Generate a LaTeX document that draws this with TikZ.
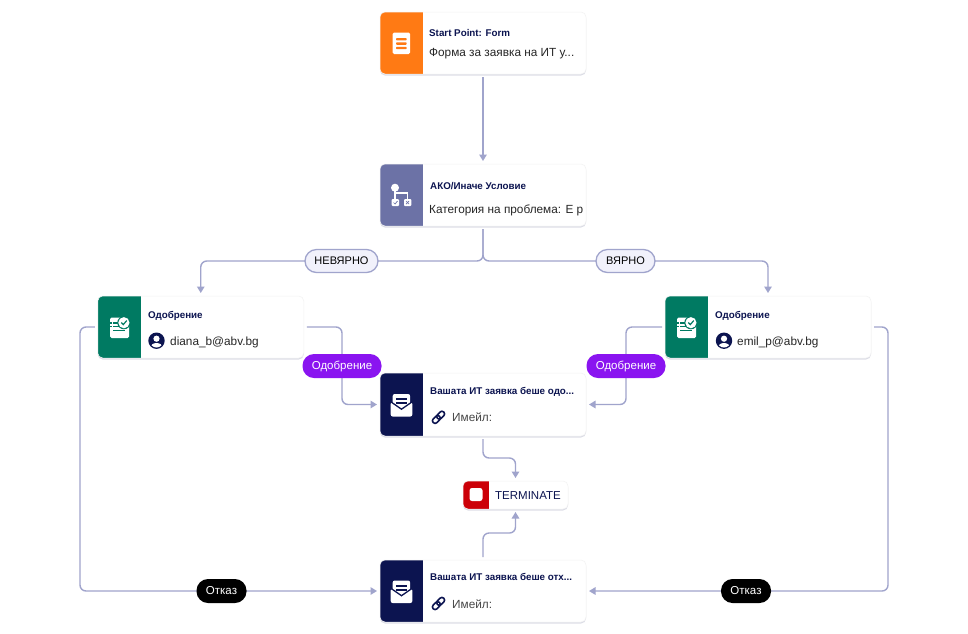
\documentclass[tikz,border=0pt]{standalone}
\usepackage{fontspec}
\setmainfont{Liberation Sans}
\usetikzlibrary{arrows.meta,shadows}
\definecolor{navy}{HTML}{0C1450}
\definecolor{edgec}{HTML}{A0A4CC}
\definecolor{orangec}{HTML}{FF7A14}
\definecolor{slatec}{HTML}{6C72A6}
\definecolor{greenc}{HTML}{007A62}
\definecolor{redc}{HTML}{CC0008}
\definecolor{purplec}{HTML}{8A14F0}
\definecolor{pillc}{HTML}{F1F1FB}
\tikzset{
  x=1pt,y=-1pt,
  card/.style={rectangle,rounded corners=5pt,draw=black!5,line width=.5pt,fill=white,
    minimum width=206pt,minimum height=62pt,inner sep=0pt,outer sep=3pt,
    drop shadow={shadow xshift=0pt,shadow yshift=-1.5pt,opacity=.14,fill=navy},
    path picture={\fill[#1,sharp corners] (path picture bounding box.north west) rectangle ([xshift=43pt]path picture bounding box.south west);}},
  termcard/.style={card=redc,minimum width=105pt,minimum height=28pt,
    path picture={\fill[redc,sharp corners] (path picture bounding box.north west) rectangle ([xshift=26pt]path picture bounding box.south west);}},
  flow/.style={draw=edgec,line width=1.4pt,rounded corners=6pt,-{Triangle[length=6.5pt,width=7.5pt]}},
  titletxt/.style={anchor=base west,inner sep=0pt,text=navy,font=\fontsize{9.8}{10}\selectfont\bfseries},
  subtxt/.style={anchor=base west,inner sep=0pt,text=black!85,font=\fontsize{11.8}{12}\selectfont},
  pill/.style={rounded corners=11.5pt,minimum height=24pt,inner sep=0pt,text height=8.5pt,text depth=1.3pt,font=\fontsize{11.5}{12}\selectfont},
  branchpill/.style={pill,draw=edgec,line width=1.3pt,fill=pillc,text=black,minimum height=23pt,font=\fontsize{11}{12}\selectfont},
  okpill/.style={pill,fill=purplec,text=white},
  nopill/.style={pill,fill=black,text=white},
}
\newcommand{\iconform}[2]{\begin{scope}[shift={(#1,#2)}]
  \fill[white,rounded corners=1.5pt] (-8.8,-10.5) rectangle (8.6,11);
  \fill[orangec,rounded corners=.8pt] (-5.5,-5) rectangle (5.2,-2.6) (-5.5,-.6) rectangle (5.2,1.8) (-5.5,3.8) rectangle (5.2,6.2);
\end{scope}}
\newcommand{\iconbranch}[2]{\begin{scope}[shift={(#1,#2)}]
  \draw[white,line width=1.6pt] (-6.5,-7.8) -- (-6.5,4) (-6.5,-2.5) -- (6,-2.5) -- (6,4);
  \fill[white] (-6.5,-7.8) circle (4);
  \fill[white,rounded corners=1pt] (-9.8,3.5) rectangle (-2.5,10.5) (2.5,3.5) rectangle (9.8,10.5);
  \draw[slatec,line width=.7pt] (-8,7) -- (-6.5,8.5) -- (-4,5.5) (4.5,5.5) -- (7.5,8.5) (7.5,5.5) -- (4.5,8.5);
\end{scope}}
\newcommand{\iconapprove}[2]{\begin{scope}[shift={(#1,#2)}]
  \fill[white,rounded corners=1.5pt] (-9.3,-10) -- (3,-10) -- (9.7,-4) -- (9.7,10.5) -- (-9.3,10.5) -- cycle;
  \draw[greenc,line width=1.1pt] (-9.5,-4.5) -- (-7.8,-4.5) (-9.5,-.8) -- (-7.8,-.8);
  \draw[greenc,line width=1.1pt] (-6.2,-4.5) -- (-1.5,-4.5) (-6.2,-.8) -- (.5,-.8) (-6.2,2.8) -- (5.5,2.8);
  \fill[greenc] (4.4,-4.8) circle (6.6);
  \fill[white] (4.4,-4.8) circle (5.6);
  \draw[greenc,line width=1.2pt] (1.8,-4.9) -- (3.8,-2.9) -- (7.2,-6.9);
\end{scope}}
\newcommand{\iconuser}[2]{\begin{scope}[shift={(#1,#2)}]
  \fill[navy] (0,0) circle (8.2);
  \fill[white] (0,-2) circle (3.1);
  \begin{scope}
    \clip (0,0) circle (6.8);
    \fill[white] (0,6.5) ellipse (6 and 4.2);
  \end{scope}
\end{scope}}
\newcommand{\iconmail}[2]{\begin{scope}[shift={(#1,#2)}]
  \fill[white,rounded corners=2pt] (-8.8,-10.5) rectangle (8.6,4);
  \fill[white,rounded corners=2pt] (-10.8,-2.5) -- (0,5) -- (10.8,-2.5) -- (10.8,12) -- (-10.8,12) -- cycle;
  \draw[navy,line width=1.3pt] (-11.5,-3.3) -- (0,4.7) -- (11.5,-3.3);
  \draw[navy,line width=1.7pt] (-5.6,-5.2) -- (5.8,-5.2) (-5.6,-1.2) -- (5.8,-1.2);
\end{scope}}
\newcommand{\iconlink}[2]{\begin{scope}[shift={(#1,#2)},rotate=45]
  \draw[navy,line width=1.6pt,rounded corners=2.4pt] (-7.4,-2.6) rectangle (1.4,2.6);
  \draw[navy,line width=1.6pt,rounded corners=2.4pt] (-1.4,-2.6) rectangle (7.4,2.6);
\end{scope}}
\begin{document}
\begin{tikzpicture}
\useasboundingbox (0,0) rectangle (968,633);
\fill[white] (0,0) rectangle (968,633);
% cards
\node[card=orangec] (start) at (483,43) {};
\node[card=slatec] (cond) at (483,195) {};
\node[card=greenc] (appl) at (200.75,327) {};
\node[card=greenc] (appr) at (768,327) {};
\node[card=navy,minimum height=63pt] (mailok) at (483,404.5) {};
\node[termcard] (term) at (515.5,495) {};
\node[card=navy] (mailno) at (483,591) {};
% routing points
\coordinate (bl) at (200.75,261);
\coordinate (br) at (768,261);
\coordinate (al) at (342,404.5);
\coordinate (ar) at (626,404.5);
\coordinate (rl) at (80,591);
\coordinate (rr) at (888,591);
\coordinate (tu) at (515.5,458);
\coordinate (td) at (515.5,533);
% connectors
\draw[flow] (start.south) -- (cond.north);
\draw[flow] (cond.south) |- (bl) -- (appl.north);
\draw[flow] (cond.south) |- (br) -- (appr.north);
\draw[flow] (appl.east) -| (al) -- (mailok.west);
\draw[flow] (appr.west) -| (ar) -- (mailok.east);
\draw[flow] (appl.west) -| (rl) -- (mailno.west);
\draw[flow] (appr.east) -| (rr) -- (mailno.east);
\draw[flow] (mailok.south) |- (tu) -- (term.north);
\draw[flow] (mailno.north) |- (td) -- (term.south);
% icons
\iconform{401.5}{43}
\iconbranch{401.5}{195.5}
\iconapprove{119.5}{327.5}
\iconapprove{686.5}{327.5}
\iconuser{156.5}{340.7}
\iconuser{724}{340.7}
\iconmail{401.5}{404.5}
\iconmail{401.5}{591}
\iconlink{438.5}{417.3}
\iconlink{438.5}{603.5}
\fill[white,rounded corners=2.5pt] (469.5,488) rectangle (482.5,501);
% texts
\node[titletxt] (t1) at (429,36.5) {Start Point: Form};
\node[subtxt] (s1) at (429,56) {Форма за заявка на ИТ у...};
\node[titletxt] (t2) at (430,189) {АКО/Иначе Условие};
\node[subtxt] (s2) at (429,213) {Категория на проблема: Е р};
\node[titletxt] (t3) at (148,318) {Одобрение};
\node[subtxt] (s3) at (170,345) {diana\_b@abv.bg};
\node[titletxt] (t4) at (715,318) {Одобрение};
\node[subtxt] (s4) at (737,345) {emil\_p@abv.bg};
\node[titletxt] (t5) at (430,394) {Вашата ИТ заявка беше одо...};
\node[subtxt,text=black!72] (s5) at (452,421.5) {Имейл:};
\node[titletxt] (t6) at (430,580.5) {Вашата ИТ заявка беше отх...};
\node[subtxt,text=black!72] (s6) at (452,608) {Имейл:};
\node[anchor=base west,inner sep=0pt,text=navy,font=\fontsize{11.5}{12}\selectfont] (t7) at (495,499) {TERMINATE};
% edge labels
\node[branchpill,minimum width=73pt] (lno) at (341.5,261) {НЕВЯРНО};
\node[branchpill,minimum width=59pt] (lyes) at (625.5,261) {ВЯРНО};
\node[okpill,minimum width=79pt] (lokl) at (342,366) {Одобрение};
\node[okpill,minimum width=79pt] (lokr) at (626,366) {Одобрение};
\node[nopill,minimum width=50pt] (lnol) at (221.5,591) {Отказ};
\node[nopill,minimum width=50pt] (lnor) at (746,591) {Отказ};
\end{tikzpicture}
\end{document}
